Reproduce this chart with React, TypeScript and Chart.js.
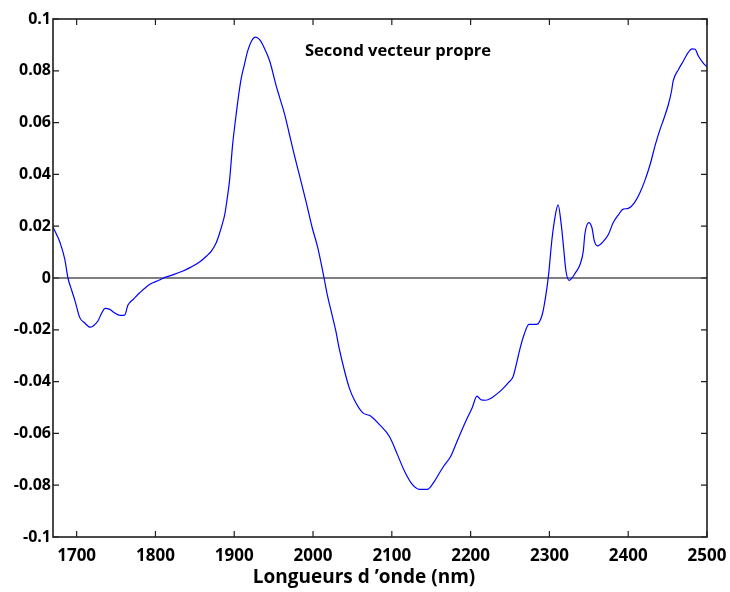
import React, { useEffect, useRef } from "react";
import { Chart, registerables } from "chart.js";

Chart.register(...registerables);

const wavelengths = [
  1670, 1675, 1679, 1685, 1689, 1694, 1698, 1704, 1710, 1717, 1721, 1727, 1732, 1736, 1742, 1748,
  1755, 1761, 1765, 1772, 1780, 1793, 1805, 1810, 1822, 1835, 1845, 1856, 1865, 1871, 1877, 1881,
  1885, 1888, 1891, 1894, 1898, 1903, 1906, 1909, 1913, 1917, 1922, 1927, 1932, 1938, 1945, 1953,
  1957, 1964, 1970, 1976, 1983, 1991, 1999, 2006, 2014, 2018, 2025, 2029, 2033, 2040, 2046, 2052,
  2063, 2073, 2084, 2097, 2107, 2116, 2126, 2135, 2145, 2154, 2160, 2166, 2175, 2183, 2194, 2202,
  2208, 2213, 2219, 2227, 2238, 2248, 2254, 2257, 2263, 2268, 2274, 2284, 2291, 2295, 2299, 2303,
  2307, 2311, 2315, 2318, 2321, 2325, 2333, 2339, 2343, 2345, 2350, 2354, 2357, 2361, 2369, 2375,
  2381, 2388, 2393, 2400, 2408, 2415, 2421, 2428, 2434, 2440, 2445, 2451, 2455, 2457, 2464, 2470,
  2476, 2481, 2485, 2489, 2495, 2500,
];

const eigenvector2 = [
  0.0197, 0.0165, 0.0136, 0.0072, 0.0, -0.005, -0.0089, -0.0153, -0.0173, -0.019, -0.0185, -0.0166,
  -0.0134, -0.0117, -0.0121, -0.0134, -0.0144, -0.0143, -0.0105, -0.0082, -0.0057, -0.0024, -0.0008,
  0.0, 0.0012, 0.0027, 0.0042, 0.0062, 0.0085, 0.0104, 0.0135, 0.0169, 0.021, 0.0246, 0.0305, 0.0375,
  0.0516, 0.0645, 0.0715, 0.0773, 0.0825, 0.0876, 0.0915, 0.093, 0.0921, 0.0889, 0.0838, 0.0745,
  0.0703, 0.0632, 0.0555, 0.0478, 0.0394, 0.0297, 0.0194, 0.0117, 0.0, -0.0063, -0.0153, -0.0205,
  -0.0269, -0.0359, -0.0424, -0.0468, -0.052, -0.0533, -0.0565, -0.0612, -0.0681, -0.0745, -0.0797,
  -0.0816, -0.0816, -0.0785, -0.0755, -0.0726, -0.0687, -0.0629, -0.0552, -0.0501, -0.0456, -0.047,
  -0.0472, -0.0462, -0.0436, -0.0404, -0.038, -0.0346, -0.0269, -0.0217, -0.0179, -0.0179, -0.014,
  -0.0076, 0.0014, 0.0143, 0.0233, 0.0282, 0.0207, 0.0117, 0.0027, -0.0009, 0.002, 0.0053, 0.0104,
  0.0169, 0.0214, 0.0194, 0.0143, 0.0124, 0.0143, 0.0169, 0.0214, 0.0246, 0.0265, 0.0269, 0.0291,
  0.033, 0.0375, 0.044, 0.051, 0.057, 0.0613, 0.067, 0.0722, 0.076, 0.0806, 0.0838, 0.087, 0.0885,
  0.0883, 0.0857, 0.0831, 0.0815,
];

const xTickValues = [1700, 1800, 1900, 2000, 2100, 2200, 2300, 2400, 2500];
const yTickValues = [-0.1, -0.08, -0.06, -0.04, -0.02, 0, 0.02, 0.04, 0.06, 0.08, 0.1];

const annotationText = "Second vecteur propre";
const xAxisTitle = "Longueurs d \u2019onde (nm)";

const FONT = "'Open Sans', 'DejaVu Sans', sans-serif";

const framePlugin = {
  id: "framePlugin",
  beforeDatasetsDraw(chart: any) {
    const { ctx, chartArea, scales } = chart;
    const y0 = scales.y.getPixelForValue(0);
    ctx.save();
    ctx.strokeStyle = "#555555";
    ctx.lineWidth = 1.3;
    ctx.beginPath();
    ctx.moveTo(chartArea.left, y0);
    ctx.lineTo(chartArea.right, y0);
    ctx.stroke();
    ctx.restore();
  },
  afterDatasetsDraw(chart: any) {
    const { ctx, chartArea, scales } = chart;
    const { left, right, top, bottom } = chartArea;
    const tl = 6;
    ctx.save();
    ctx.strokeStyle = "#1f1f1f";
    ctx.lineWidth = 1.2;
    ctx.beginPath();
    for (const t of scales.x.ticks) {
      const px = scales.x.getPixelForValue(t.value);
      ctx.moveTo(px, bottom);
      ctx.lineTo(px, bottom - tl);
      ctx.moveTo(px, top);
      ctx.lineTo(px, top + tl);
    }
    for (const t of scales.y.ticks) {
      const py = scales.y.getPixelForValue(t.value);
      ctx.moveTo(left, py);
      ctx.lineTo(left + tl, py);
      ctx.moveTo(right, py);
      ctx.lineTo(right - tl, py);
    }
    ctx.stroke();
    ctx.lineWidth = 1.6;
    ctx.strokeRect(left, top, right - left, bottom - top);

    ctx.fillStyle = "#000";
    ctx.font = `bold 16.5px ${FONT}`;
    ctx.textAlign = "left";
    ctx.textBaseline = "middle";
    ctx.fillText(annotationText, 305, 51);

    ctx.font = `bold 19px ${FONT}`;
    ctx.textAlign = "center";
    ctx.fillText(xAxisTitle, 364, 578);
    ctx.restore();
  },
};

export default function App() {
  const canvasRef = useRef<HTMLCanvasElement | null>(null);

  useEffect(() => {
    if (!canvasRef.current) return;
    const chart = new Chart(canvasRef.current, {
      type: "line",
      data: {
        datasets: [
          {
            data: wavelengths.map((w, i) => ({ x: w, y: eigenvector2[i] })),
            borderColor: "#0000ff",
            borderWidth: 1.2,
            pointRadius: 0,
            cubicInterpolationMode: "monotone",
            fill: false,
          },
        ],
      },
      options: {
        animation: false,
        responsive: true,
        maintainAspectRatio: false,
        layout: { padding: { top: 19, right: 23, left: 0, bottom: 0 } },
        plugins: { legend: { display: false }, tooltip: { enabled: false } },
        scales: {
          x: {
            type: "linear",
            min: 1670,
            max: 2500,
            afterBuildTicks: (s: any) => {
              s.ticks = xTickValues.map((v) => ({ value: v }));
            },
            afterFit: (s: any) => {
              s.height = 55;
              s.paddingLeft = 0;
              s.paddingRight = 0;
            },
            grid: { display: false, drawTicks: false },
            border: { display: false },
            ticks: {
              color: "#000",
              font: { family: FONT, size: 17, weight: "bold" },
              padding: 9,
              maxRotation: 0,
              autoSkip: false,
              callback: (v: any) => String(v),
            },
          },
          y: {
            type: "linear",
            min: -0.1,
            max: 0.1,
            afterBuildTicks: (s: any) => {
              s.ticks = yTickValues.map((v) => ({ value: v }));
            },
            afterFit: (s: any) => {
              s.width = 53;
              s.paddingTop = 0;
              s.paddingBottom = 0;
            },
            grid: { display: false, drawTicks: false },
            border: { display: false },
            ticks: {
              color: "#000",
              font: { family: FONT, size: 16, weight: "bold" },
              padding: 2,
              autoSkip: false,
              callback: (v: any) => String(Number(Number(v).toFixed(2))),
            },
          },
        },
      },
      plugins: [framePlugin],
    });
    return () => chart.destroy();
  }, []);

  return (
    <div style={{ position: "absolute", left: 0, top: 0, width: 730, height: 592, background: "#fff" }}>
      <canvas ref={canvasRef} />
    </div>
  );
}
